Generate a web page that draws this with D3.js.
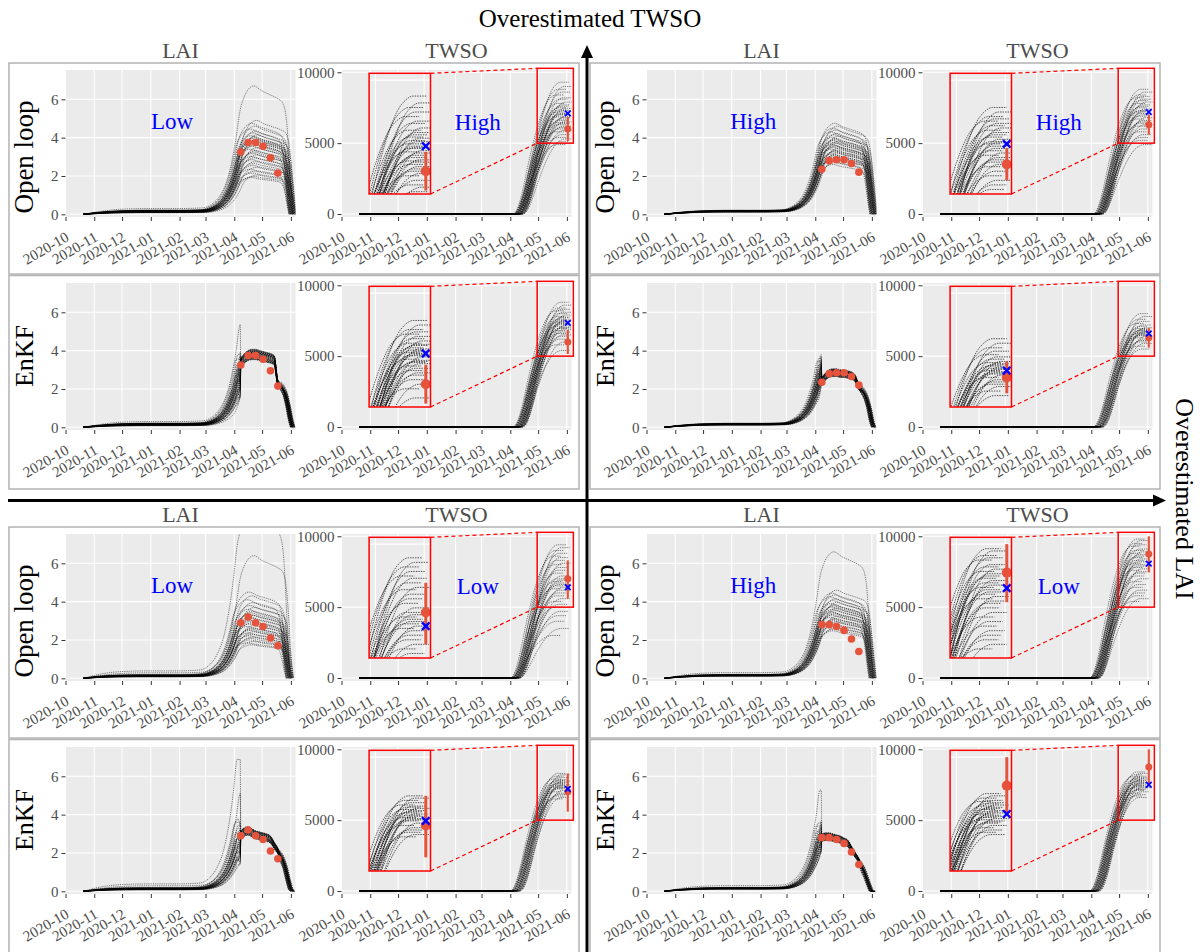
<!DOCTYPE html>
<html><head><meta charset="utf-8">
<script src="https://cdn.jsdelivr.net/npm/d3@7"></script>
<style>body{margin:0;background:#fff}svg{display:block}</style>
</head><body>
<svg id="chart" width="1200" height="952"></svg>
<script>
// ---------------- DATA ----------------
const tickDates = ["2020-10-01","2020-11-01","2020-12-01","2021-01-01","2021-02-01","2021-03-01","2021-04-01","2021-05-01","2021-06-01"];
const tickLabels = ["2020-10","2020-11","2020-12","2021-01","2021-02","2021-03","2021-04","2021-05","2021-06"];
const laiTicks = [0, 2, 4, 6];
const twsoTicks = [0, 5000, 10000];
const rowNames = ["Open loop", "EnKF"];
const quadLaiLevel = ["Low", "High", "Low", "High"];
const quadTwsoLevel = ["High", "High", "Low", "Low"];

// LAI growth curve read from the open-loop ensembles (fraction of member peak)
const laiTplDates = ["2020-10-20","2020-11-10","2020-12-01","2021-01-01","2021-02-01","2021-02-25","2021-03-08","2021-03-16","2021-03-23","2021-03-29","2021-04-03","2021-04-07","2021-04-12","2021-04-17","2021-04-22","2021-05-01","2021-05-10","2021-05-18","2021-05-23","2021-05-27","2021-05-30","2021-06-01","2021-06-03"];
const laiTplFrac  = [0.0, 0.025, 0.04, 0.045, 0.045, 0.05, 0.08, 0.14, 0.24, 0.4, 0.6, 0.8, 0.92, 0.98, 1.0, 0.96, 0.93, 0.9, 0.87, 0.75, 0.45, 0.2, 0.0];
const quadLaiShift = [0, 0, -3, -1];

// TWSO accumulation curve (fraction of member final yield)
const twsoTplDates = ["2020-10-20","2021-04-09","2021-04-13","2021-04-17","2021-04-21","2021-04-25","2021-04-30","2021-05-05","2021-05-10","2021-05-15","2021-05-20","2021-05-25","2021-06-03"];
const twsoTplFrac  = [0, 0, 0.03, 0.12, 0.25, 0.40, 0.57, 0.72, 0.84, 0.93, 0.98, 1.0, 1.0];
const quadTwsoShift = [0, -1, -3, -5];

// per-member timing offsets (days) and EnKF analysis spread
const memberShiftDays = [0, 3, -2, 1, -4, 2, -1, 4, -3, 1, 0, -2, 3, -1, 2, -3, 0, 1, -2, 4, -4, 2, 0, -1, 3, -3, 1, -2, 2, 0, -1, 3, -4, 1, -2, 4, 0, -3, 2, -1];
const enkfRel = [0.05, -0.03, 0.07, -0.06, 0.01, -0.07, 0.04, -0.01, 0.06, -0.05, 0.02, -0.06, 0.07, -0.02, 0.03, -0.04, 0.0, 0.05, -0.06, 0.02, -0.03, 0.06, -0.01, 0.04, -0.07, 0.03, -0.02, 0.05, -0.04, 0.01, 0.06, -0.05, 0.02, -0.03, 0.04, -0.06, 0.0, 0.03, -0.01, 0.05];

// Open-loop LAI ensemble peaks
const laiPeak_TL = [6.7, 4.9, 4.75, 4.6, 4.45, 4.35, 4.25, 4.15, 4.1, 4.05, 4.0, 3.95, 3.9, 3.85, 3.8, 3.75, 3.7, 3.62, 3.55, 3.48, 3.4, 3.33, 3.25, 3.18, 3.1, 3.02, 2.95, 2.85, 2.75, 2.65, 2.55, 2.45, 2.35, 2.25, 2.15, 2.05, 1.98, 1.92];
const laiPeak_TR = [4.75, 4.6, 4.5, 4.4, 4.3, 4.22, 4.15, 4.08, 4.02, 3.96, 3.9, 3.85, 3.8, 3.75, 3.7, 3.65, 3.6, 3.55, 3.5, 3.45, 3.4, 3.35, 3.3, 3.25, 3.2, 3.15, 3.1, 3.05, 3.0, 2.95, 2.9, 2.85, 2.8, 2.7, 2.6];
const laiPeak_BL = [8.6, 6.4, 4.5, 4.3, 4.1, 3.95, 3.8, 3.7, 3.6, 3.5, 3.42, 3.35, 3.28, 3.2, 3.12, 3.05, 2.98, 2.9, 2.83, 2.76, 2.7, 2.63, 2.56, 2.5, 2.43, 2.36, 2.3, 2.22, 2.15, 2.08, 2.0, 1.92, 1.85, 1.75];
const laiPeak_BR = [6.6, 4.6, 4.45, 4.35, 4.25, 4.15, 4.05, 3.98, 3.9, 3.84, 3.78, 3.72, 3.66, 3.6, 3.54, 3.48, 3.42, 3.36, 3.3, 3.24, 3.18, 3.12, 3.06, 3.0, 2.94, 2.88, 2.8, 2.72, 2.64, 2.56, 2.48];

// EnKF analysed LAI path (after first assimilation)
const enkfPathDates = ["2021-04-08","2021-04-12","2021-04-16","2021-04-20","2021-04-24","2021-04-28","2021-05-02","2021-05-06","2021-05-10","2021-05-14","2021-05-18","2021-05-22","2021-05-26","2021-05-29","2021-06-01","2021-06-03"];
const enkfPath_TL = [3.35, 3.6, 3.75, 3.8, 3.8, 3.75, 3.7, 3.65, 3.6, 3.5, 2.3, 2.1, 1.7, 1.1, 0.35, 0];
const enkfPath_TR = [2.45, 2.65, 2.8, 2.85, 2.85, 2.8, 2.8, 2.75, 2.7, 2.55, 2.1, 1.9, 1.5, 1.0, 0.3, 0];
const enkfPath_BL = [2.95, 3.1, 3.15, 3.05, 2.95, 2.9, 2.85, 2.8, 2.7, 2.4, 2.1, 1.75, 1.2, 0.6, 0.1, 0];
const enkfPath_BR = [2.8, 2.85, 2.85, 2.8, 2.75, 2.7, 2.6, 2.5, 2.2, 1.9, 1.6, 1.2, 0.7, 0.3, 0, 0];

// LAI observations
const obsLaiDates = ["2021-04-08","2021-04-16","2021-04-24","2021-05-02","2021-05-10","2021-05-18"];
const obsLai_TL = [3.25, 3.75, 3.75, 3.55, 2.95, 2.15];
const obsLai_TR = [2.35, 2.8, 2.85, 2.85, 2.65, 2.2];
const obsLai_BL = [2.9, 3.2, 2.9, 2.7, 2.1, 1.7];
const obsLai_BR = [2.8, 2.8, 2.7, 2.5, 2.05, 1.4];

// TWSO final values of ensemble members
const twsoOL_TL = [9300, 9000, 8800, 8600, 8400, 8200, 8100, 7900, 7800, 7700, 7600, 7500, 7450, 7350, 7300, 7200, 7100, 7050, 7000, 6900, 6850, 6800, 6700, 6600, 6500, 6450, 6400, 6300, 6200, 6100, 6000, 5900, 5800, 5600, 5400, 5300, 5100, 4900];
const twsoEnKF_TL = [8800, 8600, 8400, 8300, 8200, 8100, 8000, 7900, 7800, 7750, 7700, 7600, 7550, 7500, 7450, 7400, 7350, 7300, 7250, 7200, 7100, 7050, 7000, 6950, 6900, 6800, 6700, 6600, 6500, 6400, 6200, 6000, 5800, 5400];
const twsoOL_TR = [8800, 8600, 8400, 8300, 8200, 8100, 8000, 7900, 7800, 7700, 7600, 7500, 7400, 7300, 7250, 7200, 7100, 7000, 6900, 6800, 6700, 6600, 6500, 6400, 6300, 6200, 6000, 5800, 5600, 5400, 5200, 4900];
const twsoEnKF_TR = [8000, 7800, 7600, 7450, 7300, 7200, 7100, 7000, 6950, 6900, 6850, 6800, 6750, 6700, 6650, 6600, 6550, 6500, 6450, 6400, 6300, 6200, 6100, 6000, 5900, 5700, 5500];
const twsoOL_BL = [9400, 9200, 9000, 8800, 8600, 8500, 8300, 8100, 8000, 7800, 7600, 7400, 7200, 7000, 6900, 6800, 6700, 6600, 6500, 6400, 6300, 6200, 6000, 5800, 5600, 5400, 5200, 5000, 4700, 4400, 4000, 3500, 3000];
const twsoEnKF_BL = [8300, 8200, 8100, 8000, 7900, 7850, 7800, 7750, 7700, 7650, 7600, 7550, 7500, 7450, 7400, 7350, 7300, 7250, 7200, 7100, 7000, 6900, 6800, 6700, 6600, 6500];
const twsoOL_BR = [9800, 9700, 9500, 9400, 9300, 9100, 9000, 8900, 8800, 8700, 8600, 8500, 8400, 8300, 8200, 8100, 8000, 7900, 7800, 7700, 7600, 7500, 7400, 7200, 7000, 6800, 6600, 6400, 6200, 6000, 5800, 5600, 5400];
const twsoEnKF_BR = [8400, 8300, 8200, 8100, 8050, 8000, 7950, 7900, 7850, 7800, 7750, 7700, 7650, 7600, 7550, 7500, 7450, 7400, 7350, 7300, 7250, 7200, 7150, 7100, 7000, 6900, 6800, 6700, 6600];

// TWSO observation (with error bar) and ensemble estimate (blue cross)
const obsTwsoDate = "2021-06-02";
const obsTwso   = [6000, 6300, 7000, 8750];
const obsTwsoLo = [5150, 5600, 5600, 7450];
const obsTwsoHi = [6850, 7000, 8300, 10000];
const estTwsoOL   = [7100, 7200, 6400, 8070];
const estTwsoEnKF = [7350, 6600, 7200, 7500];

// ---------------- LAYOUT ----------------
const F = "'Liberation Serif','Times New Roman',serif";
const quadX = [0, 581, 0, 581], quadY = [0, 0, 464, 464];
const panelW = 230, panelH = 147;
const laiLeft = 65.5, twsoLeft = 341.5;
const rowTop = [70, 283];
const rowBoxTop = [63, 275.5], rowBoxH = [211, 213.5];
const boxLeft = 9, boxW = 570;
const inset = {x: 27.6, y: 3.3, w: 61.4, h: 120.7};
const RED = "#e5533c";

const DAY = 864e5;
const parse = s => new Date(s + "T00:00:00Z");
const shiftDate = (d, n) => new Date(d.getTime() + n * DAY);

const x = d3.scaleUtc().domain([parse("2020-10-01"), parse("2021-06-06")]).range([0, panelW]);
const yLai = d3.scaleLinear().domain([-0.14, 7.53]).range([panelH, 0]);
const yTw = d3.scaleLinear().domain([-212, 10162]).range([panelH, 0]);
const xIn = d3.scaleUtc().domain([parse("2021-04-27"), parse("2021-06-05")]).range([0, inset.w]);
const yIn = d3.scaleLinear().domain([5000, 10300]).range([inset.h, 0]);

const laiPeaks = [laiPeak_TL, laiPeak_TR, laiPeak_BL, laiPeak_BR];
const enkfPaths = [enkfPath_TL, enkfPath_TR, enkfPath_BL, enkfPath_BR];
const obsLai = [obsLai_TL, obsLai_TR, obsLai_BL, obsLai_BR];
const twsoOL = [twsoOL_TL, twsoOL_TR, twsoOL_BL, twsoOL_BR];
const twsoEnKF = [twsoEnKF_TL, twsoEnKF_TR, twsoEnKF_BL, twsoEnKF_BR];

// ---------------- SERIES ----------------
function olLaiMember(q, peak, i) {
  const s = memberShiftDays[i % memberShiftDays.length] + quadLaiShift[q];
  return laiTplDates.map((d, k) => [shiftDate(parse(d), k === 0 ? 0 : s), laiTplFrac[k] * peak]);
}
function enkfLaiMember(q, peak, i) {
  const s = memberShiftDays[i % memberShiftDays.length];
  const rel = enkfRel[i % enkfRel.length];
  const start = parse(enkfPathDates[0]);
  const pre = olLaiMember(q, peak, i).filter(p => p[0] < shiftDate(start, -1));
  const spike = [shiftDate(start, -0.6), laiTplFrac[11] * peak];
  const post = enkfPathDates.map((d, k) => [shiftDate(parse(d), k > 10 ? s * 0.6 : 0), enkfPaths[q][k] * (1 + rel)]);
  return pre.concat([spike], post);
}
function twsoMember(q, fin, i) {
  const s = memberShiftDays[i % memberShiftDays.length] * 1.3 + quadTwsoShift[q];
  return twsoTplDates.map((d, k) => [shiftDate(parse(d), k === 0 ? 0 : s), twsoTplFrac[k] * fin]);
}

// ---------------- DRAW ----------------
const svg = d3.select("#chart");
let clipN = 0;

function frame(g, yScale, yTicks) {
  g.append("rect").attr("width", panelW).attr("height", panelH).attr("fill", "#ebebeb");
  g.append("g").selectAll("line").data(tickDates).join("line")
    .attr("x1", d => x(parse(d))).attr("x2", d => x(parse(d))).attr("y1", 0).attr("y2", panelH)
    .attr("stroke", "#fff").attr("stroke-width", 1.1);
  g.append("g").selectAll("line").data(yTicks).join("line")
    .attr("y1", d => yScale(d)).attr("y2", d => yScale(d)).attr("x1", 0).attr("x2", panelW)
    .attr("stroke", "#fff").attr("stroke-width", 1.1);
  const ax = g.append("g").attr("transform", `translate(0,${panelH})`)
    .call(d3.axisBottom(x).tickValues(tickDates.map(parse)).tickFormat((d, i) => tickLabels[i]).tickSize(4).tickSizeOuter(0));
  ax.attr("font-family", F).attr("font-size", 15);
  ax.select(".domain").remove();
  ax.selectAll("line").attr("stroke", "#333");
  ax.selectAll("text").attr("y", 0).attr("x", 0).attr("dy", null).attr("text-anchor", "end")
    .attr("transform", "translate(4,23) rotate(-30)").attr("fill", "#4d4d4d");
  const ay = g.append("g").call(d3.axisLeft(yScale).tickValues(yTicks).tickFormat(d3.format("d")).tickSize(4).tickPadding(3).tickSizeOuter(0));
  ay.attr("font-family", F).attr("font-size", 15);
  ay.select(".domain").remove();
  ay.selectAll("line").attr("stroke", "#333");
  ay.selectAll("text").attr("fill", "#4d4d4d");
}

function ensemble(g, series, xs, ys, w, h, sw, dash, curve) {
  const id = "clip" + (clipN++);
  g.append("clipPath").attr("id", id).append("rect").attr("width", w).attr("height", h);
  const line = d3.line().x(d => xs(d[0])).y(d => ys(d[1])).curve(curve);
  g.append("g").attr("clip-path", `url(#${id})`).selectAll("path").data(series).join("path")
    .attr("d", line).attr("fill", "none").attr("stroke", "#000").attr("stroke-width", sw)
    .attr("stroke-dasharray", dash).attr("stroke-dashoffset", (d, i) => (i * 0.7) % 2.2).attr("opacity", 0.85);
}

function cross(g, cx, cy, s, sw) {
  g.append("path").attr("d", `M${cx - s},${cy - s}L${cx + s},${cy + s}M${cx - s},${cy + s}L${cx + s},${cy - s}`)
    .attr("stroke", "#0000ff").attr("stroke-width", sw).attr("fill", "none");
}

[0, 1, 2, 3].forEach(q => {
  const ox = quadX[q], oy = quadY[q];
  svg.append("text").attr("x", ox + laiLeft + panelW / 2).attr("y", oy + 58).attr("text-anchor", "middle")
    .attr("font-family", F).attr("font-size", 22).attr("fill", "#4d4d4d").text("LAI");
  svg.append("text").attr("x", ox + twsoLeft + panelW / 2).attr("y", oy + 58).attr("text-anchor", "middle")
    .attr("font-family", F).attr("font-size", 22).attr("fill", "#4d4d4d").text("TWSO");

  rowNames.forEach((rowName, r) => {
    const top = oy + rowTop[r];
    svg.append("rect").attr("x", ox + boxLeft).attr("y", oy + rowBoxTop[r]).attr("width", boxW).attr("height", rowBoxH[r])
      .attr("fill", "none").attr("stroke", "#b3b3b3").attr("stroke-width", 1.5);
    svg.append("text").attr("transform", `translate(${ox + 33},${top + (r === 0 ? 87 : 73)}) rotate(-90)`)
      .attr("text-anchor", "middle").attr("font-family", F).attr("font-size", r === 0 ? 27 : 26).attr("fill", "#000").text(rowName);

    // ---- LAI panel ----
    const gL = svg.append("g").attr("transform", `translate(${ox + laiLeft},${top})`);
    frame(gL, yLai, laiTicks);
    const laiSeries = laiPeaks[q].map((p, i) => r === 0 ? olLaiMember(q, p, i) : enkfLaiMember(q, p, i));
    ensemble(gL, laiSeries, x, yLai, panelW, panelH, 0.6, "1.2 1", d3.curveMonotoneX);
    gL.append("g").selectAll("circle").data(obsLai[q]).join("circle")
      .attr("cx", (d, i) => x(parse(obsLaiDates[i]))).attr("cy", d => yLai(d)).attr("r", 3.8).attr("fill", RED);
    if (r === 0) {
      gL.append("text").attr("x", x(parse("2021-01-24"))).attr("y", yLai(4.45)).attr("text-anchor", "middle")
        .attr("font-family", F).attr("font-size", 23).attr("fill", "#0000ff").text(quadLaiLevel[q]);
    }

    // ---- TWSO panel ----
    const gT = svg.append("g").attr("transform", `translate(${ox + twsoLeft},${top})`);
    frame(gT, yTw, twsoTicks);
    const finals = r === 0 ? twsoOL[q] : twsoEnKF[q];
    const twSeries = finals.map((f, i) => twsoMember(q, f, i));
    ensemble(gT, twSeries, x, yTw, panelW, panelH, 0.6, "1.2 1", d3.curveMonotoneX);
    const est = r === 0 ? estTwsoOL[q] : estTwsoEnKF[q];
    const xo = x(parse(obsTwsoDate));
    gT.append("line").attr("x1", xo).attr("x2", xo).attr("y1", yTw(obsTwsoLo[q])).attr("y2", yTw(obsTwsoHi[q]))
      .attr("stroke", RED).attr("stroke-width", 2.2);
    gT.append("circle").attr("cx", xo).attr("cy", yTw(obsTwso[q])).attr("r", 3.5).attr("fill", RED);
    cross(gT, xo, yTw(est), 2.8, 1.8);
    if (r === 0) {
      gT.append("text").attr("x", x(parse("2021-02-25"))).attr("y", yTw(5930)).attr("text-anchor", "middle")
        .attr("font-family", F).attr("font-size", 23).attr("fill", "#0000ff").text(quadTwsoLevel[q]);
    }

    // source rectangle + connectors
    const sx0 = x(parse("2021-04-30")), sx1 = x(parse("2021-06-08"));
    const sy0 = yTw(10280), sy1 = yTw(5000);
    gT.append("rect").attr("x", sx0).attr("y", sy0).attr("width", sx1 - sx0).attr("height", sy1 - sy0)
      .attr("fill", "none").attr("stroke", "#ff0000").attr("stroke-width", 1.5);
    gT.append("line").attr("x1", inset.x + inset.w).attr("y1", inset.y).attr("x2", sx0).attr("y2", sy0)
      .attr("stroke", "#ff0000").attr("stroke-width", 1.2).attr("stroke-dasharray", "4 3");
    gT.append("line").attr("x1", inset.x + inset.w).attr("y1", inset.y + inset.h).attr("x2", sx0).attr("y2", sy1)
      .attr("stroke", "#ff0000").attr("stroke-width", 1.2).attr("stroke-dasharray", "4 3");

    // inset
    const gI = gT.append("g").attr("transform", `translate(${inset.x},${inset.y})`);
    gI.append("rect").attr("width", inset.w).attr("height", inset.h).attr("fill", "#ebebeb");
    gI.append("g").selectAll("line").data(["2021-05-01", "2021-06-01"]).join("line")
      .attr("x1", d => xIn(parse(d))).attr("x2", d => xIn(parse(d))).attr("y1", 0).attr("y2", inset.h)
      .attr("stroke", "#fff").attr("stroke-width", 1.1);
    gI.append("line").attr("x1", 0).attr("x2", inset.w).attr("y1", yIn(10000)).attr("y2", yIn(10000))
      .attr("stroke", "#fff").attr("stroke-width", 1.1);
    ensemble(gI, twSeries, xIn, yIn, inset.w, inset.h, 0.8, "1.4 1.1", d3.curveMonotoneX);
    const xi = xIn(parse(obsTwsoDate));
    gI.append("line").attr("x1", xi).attr("x2", xi).attr("y1", yIn(obsTwsoLo[q])).attr("y2", yIn(Math.min(obsTwsoHi[q], 10300)))
      .attr("stroke", RED).attr("stroke-width", 3);
    gI.append("circle").attr("cx", xi).attr("cy", yIn(obsTwso[q])).attr("r", 5).attr("fill", RED);
    cross(gI, xi, yIn(est), 3.8, 2.4);
    gI.append("rect").attr("width", inset.w).attr("height", inset.h).attr("fill", "none")
      .attr("stroke", "#ff0000").attr("stroke-width", 1.5);
  });
});

// ---------------- AXES ARROWS & TITLES ----------------
svg.append("line").attr("x1", 587).attr("x2", 587).attr("y1", 952).attr("y2", 56).attr("stroke", "#000").attr("stroke-width", 3);
svg.append("path").attr("d", "M587,45L581,58L593,58Z").attr("fill", "#000");
svg.append("line").attr("x1", 8).attr("x2", 1154).attr("y1", 500.5).attr("y2", 500.5).attr("stroke", "#000").attr("stroke-width", 3);
svg.append("path").attr("d", "M1166,500.5L1153,494.5L1153,506.5Z").attr("fill", "#000");
svg.append("text").attr("x", 590).attr("y", 27).attr("text-anchor", "middle").attr("font-family", F).attr("font-size", 25)
  .attr("fill", "#000").text("Overestimated TWSO");
svg.append("text").attr("transform", "translate(1176,499) rotate(90)").attr("text-anchor", "middle").attr("font-family", F)
  .attr("font-size", 26).attr("fill", "#000").text("Overestimated LAI");
</script>
</body></html>
